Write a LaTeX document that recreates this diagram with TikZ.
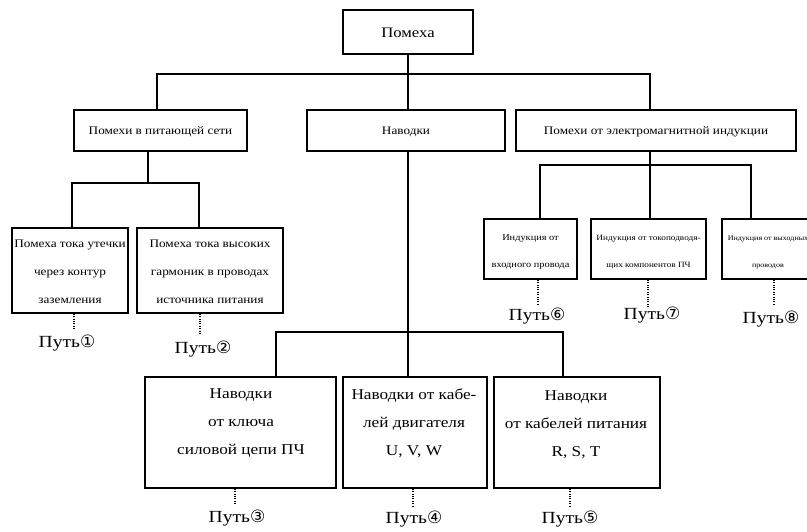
\documentclass[tikz,border=0pt]{standalone}
\usepackage{fontspec}
\setmainfont[FakeStretch=1.15]{Liberation Serif}
\newfontfamily\cdig{DejaVu Sans}
\begin{document}
\begin{tikzpicture}[x=1pt,y=-1pt,
  box/.style={draw,line width=1.6pt,inner sep=0pt},
  link/.style={line width=1.6pt},
  dots/.style={line width=1.3pt,dash pattern=on 1pt off 1.4pt},
  txt/.style={inner sep=0pt,align=center},
  pathlbl/.style={inner sep=0pt,font=\fontsize{17}{20}\selectfont}
]
\useasboundingbox (0,0) rectangle (807,531);
\path[clip] (0,0) rectangle (807,531);

% ---- boxes ----
\node[box,minimum width=130pt,minimum height=44pt] (root) at (408,32) {};
\node[box,minimum width=173pt,minimum height=41pt] (ps)  at (160.5,130.5) {};
\node[box,minimum width=198pt,minimum height=41pt] (nav) at (406,130.5) {};
\node[box,minimum width=280pt,minimum height=41pt] (emi) at (656,130.5) {};
\node[box,minimum width=116pt,minimum height=85pt] (a1) at (70,270.5) {};
\node[box,minimum width=146pt,minimum height=85pt] (a2) at (210,270.5) {};
\node[box,minimum width=191pt,minimum height=111pt] (b3) at (240.5,432.5) {};
\node[box,minimum width=144pt,minimum height=111pt] (b4) at (415,432.5) {};
\node[box,minimum width=166pt,minimum height=111pt] (b5) at (577,432.5) {};
\node[box,minimum width=93pt,minimum height=60pt] (c6) at (530.5,249) {};
\node[box,minimum width=115pt,minimum height=60pt] (c7) at (648.5,249) {};
\node[box,minimum width=92pt,minimum height=60pt] (c8) at (768,249) {};

% ---- box texts ----
\node[txt,font=\fontsize{14.5}{18}\selectfont] (troot) at (408,33) {Помеха};
\node[txt,font=\fontsize{11.5}{14}\selectfont] (tps) at (160.5,132) {Помехи в питающей сети};
\node[txt,font=\fontsize{11.5}{14}\selectfont] (tnav) at (406,132) {Наводки};
\node[txt,font=\fontsize{11.5}{14}\selectfont] (temi) at (656,132) {Помехи от электромагнитной индукции};
\node[txt,font=\fontsize{11.5}{28}\selectfont] (ta1) at (70,272) {Помеха тока утечки\\через контур\\заземления};
\node[txt,font=\fontsize{11.5}{28}\selectfont] (ta2) at (210,272) {Помеха тока высоких\\гармоник в проводах\\источника питания};
\node[txt,font=\fontsize{15}{28}\selectfont] (tb3) at (241,423) {Наводки\\от ключа\\силовой цепи ПЧ};
\node[txt,font=\fontsize{15}{28}\selectfont] (tb4) at (414,423) {Наводки от кабе-\\лей двигателя\\U, V, W};
\node[txt,font=\fontsize{15}{28}\selectfont] (tb5) at (576,425) {Наводки\\от кабелей питания\\R, S, T};
\node[txt,font=\fontsize{9}{27}\selectfont] (tc6) at (530.5,252.5) {Индукция от\\входного провода};
\node[txt,font=\fontsize{8}{27}\selectfont] (tc7) at (648.5,252.5) {Индукция от токоподводя-\\щих компонентов ПЧ};
\node[txt,font=\fontsize{7}{27}\selectfont] (tc8) at (768,252.5) {Индукция от выходных\\проводов};

% ---- tree connectors ----
\coordinate (jL) at (157,74);
\coordinate (jR) at (650,74);
\draw[link] (root.south -| 408,0) -- (408,0 |- nav.north);
\draw[link] (jL |- ps.north) -- (jL) -- (jR) -- (jR |- emi.north);

\coordinate (ja)  at (148,183);
\coordinate (ja1) at (72,183);
\coordinate (ja2) at (199,183);
\draw[link] (ja |- ps.south) -- (ja);
\draw[link] (ja1 |- a1.north) -- (ja1) -- (ja2) -- (ja2 |- a2.north);

\coordinate (jc)  at (650,165);
\coordinate (jc6) at (540,165);
\coordinate (jc8) at (751,165);
\draw[link] (jc |- emi.south) -- (jc |- c7.north);
\draw[link] (jc6 |- c6.north) -- (jc6) -- (jc8) -- (jc8 |- c8.north);

\coordinate (jb)  at (408,332);
\coordinate (jb3) at (276,332);
\coordinate (jb5) at (563,332);
\draw[link] (jb |- nav.south) -- (jb |- b4.north);
\draw[link] (jb3 |- b3.north) -- (jb3) -- (jb5) -- (jb5 |- b5.north);

% ---- dotted leads to the path labels ----
\coordinate (d1) at (74,330);
\coordinate (d2) at (200,335);
\coordinate (d3) at (235,505);
\coordinate (d4) at (413,506);
\coordinate (d5) at (570,506);
\coordinate (d6) at (538,305);
\coordinate (d7) at (648,308);
\coordinate (d8) at (774,306);
\draw[dots] (d1 |- a1.south) -- (d1);
\draw[dots] (d2 |- a2.south) -- (d2);
\draw[dots] (d3 |- b3.south) -- (d3);
\draw[dots] (d4 |- b4.south) -- (d4);
\draw[dots] (d5 |- b5.south) -- (d5);
\draw[dots] (d6 |- c6.south) -- (d6);
\draw[dots] (d7 |- c7.south) -- (d7);
\draw[dots] (d8 |- c8.south) -- (d8);

\node[pathlbl] (p1) at (67,343)  {Путь{\cdig ①}};
\node[pathlbl] (p2) at (203,349) {Путь{\cdig ②}};
\node[pathlbl] (p3) at (237,518) {Путь{\cdig ③}};
\node[pathlbl] (p4) at (414,519) {Путь{\cdig ④}};
\node[pathlbl] (p5) at (570,519) {Путь{\cdig ⑤}};
\node[pathlbl] (p6) at (537,316) {Путь{\cdig ⑥}};
\node[pathlbl] (p7) at (652,315) {Путь{\cdig ⑦}};
\node[pathlbl] (p8) at (771,319) {Путь{\cdig ⑧}};
\end{tikzpicture}
\end{document}
